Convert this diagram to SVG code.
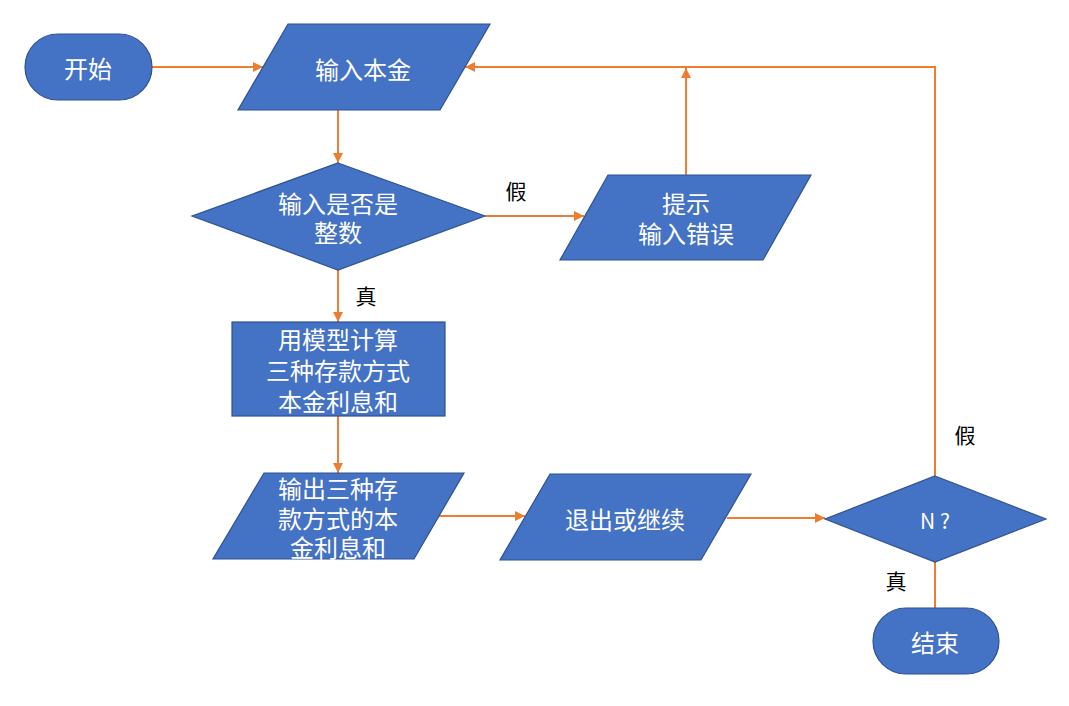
<svg xmlns="http://www.w3.org/2000/svg" width="1069" height="706" viewBox="0 0 1069 706">
<defs>
<style>
.shape{fill:#4472C4;stroke:#2F528F;stroke-width:1.2}
.t{font-family:"Noto Sans CJK SC","Noto Sans",sans-serif;font-size:24px;fill:#ffffff;text-anchor:middle;dominant-baseline:central}
.lbl{font-family:"Noto Sans CJK SC","Noto Sans",sans-serif;font-size:21px;fill:#000000;text-anchor:middle;dominant-baseline:central}
.c{fill:none;stroke:#ED7D31;stroke-width:2}
</style>
<marker id="ah" viewBox="0 0 10 10" refX="10" refY="5" markerWidth="5" markerHeight="5" orient="auto" markerUnits="strokeWidth">
<path d="M0,0 L10,5 L0,10 z" fill="#ED7D31"/>
</marker>
</defs>
<rect width="1069" height="706" fill="#ffffff"/>
<g id="connectors">
<line class="c" x1="152" y1="67" x2="263" y2="67" marker-end="url(#ah)"/>
<line class="c" x1="338" y1="110" x2="338" y2="163" marker-end="url(#ah)"/>
<line class="c" x1="485" y1="216" x2="584" y2="216" marker-end="url(#ah)"/>
<line class="c" x1="686" y1="175" x2="686" y2="68" marker-end="url(#ah)"/>
<line class="c" x1="338" y1="270" x2="338" y2="322" marker-end="url(#ah)"/>
<line class="c" x1="338" y1="416" x2="338" y2="473" marker-end="url(#ah)"/>
<line class="c" x1="439" y1="516" x2="525" y2="516" marker-end="url(#ah)"/>
<line class="c" x1="727" y1="518" x2="825" y2="518" marker-end="url(#ah)"/>
<polyline class="c" points="935,476 935,67 465,67" marker-end="url(#ah)"/>
<line class="c" x1="935" y1="562" x2="935" y2="608"/>
<text class="lbl" x="516" y="190">假</text>
<text class="lbl" x="366" y="295">真</text>
<text class="lbl" x="965" y="434">假</text>
<text class="lbl" x="896" y="580">真</text>
</g>
<g id="start">
<rect class="shape" x="25" y="34" width="127" height="66" rx="33" ry="33"/>
<text class="t" x="88" y="67">开始</text>
</g>
<g id="input">
<polygon class="shape" points="288,24 490,24 440,110 238,110"/>
<text class="t" x="363" y="68">输入本金</text>
</g>
<g id="check">
<polygon class="shape" points="338,163 485,216 338,270 192,216"/>
<text class="t" x="338" y="202">输入是否是</text>
<text class="t" x="338" y="231">整数</text>
</g>
<g id="error">
<polygon class="shape" points="608,175 811,175 763,260 560,260"/>
<text class="t" x="686" y="202">提示</text>
<text class="t" x="686" y="232">输入错误</text>
</g>
<g id="calc">
<rect class="shape" x="232" y="322" width="213" height="94"/>
<text class="t" x="338" y="338">用模型计算</text>
<text class="t" x="338" y="369">三种存款方式</text>
<text class="t" x="338" y="400">本金利息和</text>
</g>
<g id="output">
<polygon class="shape" points="264,473 464,473 414,559 213,559"/>
<text class="t" x="338" y="487">输出三种存</text>
<text class="t" x="338" y="517">款方式的本</text>
<text class="t" x="338" y="546">金利息和</text>
</g>
<g id="exit">
<polygon class="shape" points="550,474 751,474 701,560 500,560"/>
<text class="t" x="625" y="518">退出或继续</text>
</g>
<g id="n">
<polygon class="shape" points="935,476 1046,519 935,562 825,519"/>
<text class="t" x="935" y="520" style="font-size:21px">N ?</text>
</g>
<g id="end">
<rect class="shape" x="873" y="608" width="126" height="66" rx="33" ry="33"/>
<text class="t" x="935" y="641">结束</text>
</g>
</svg>
